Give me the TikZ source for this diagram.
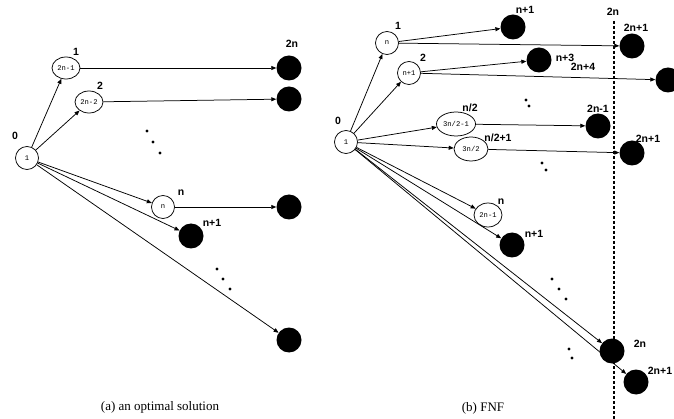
\documentclass[tikz,border=0pt]{standalone}
\usepackage{fontspec}
\setmainfont{Liberation Serif}
\setsansfont{Liberation Sans}
\setmonofont{Liberation Mono}
\usetikzlibrary{arrows.meta,shapes.geometric}
\tikzset{
  arr/.style={-{Triangle[length=5pt,width=4pt]},line width=0.75pt},
  wnode/.style={circle,draw,line width=0.75pt,minimum size=23pt,inner sep=0pt,font=\ttfamily\fontsize{7.2}{7.2}\selectfont},
  wellip/.style={ellipse,draw,line width=0.75pt,inner sep=0pt,font=\ttfamily\fontsize{7.2}{7.2}\selectfont},
  bnode/.style={circle,fill=black,minimum size=25pt,inner sep=0pt},
  lbl/.style={font=\sffamily\bfseries\fontsize{10.5}{10.5}\selectfont,inner sep=0pt},
  dotm/.style={circle,fill=black,minimum size=3.4pt,inner sep=0pt},
  captext/.style={font=\fontsize{13}{13}\selectfont,inner sep=0pt}
}
\begin{document}
\begin{tikzpicture}[x=1pt,y=-1pt]
\clip (0,0) rectangle (674,419);
\fill[white] (0,0) rectangle (674,419);
% ---------- left (a) ----------
\node[wnode] (L0) at (27,158) {1};
\node[lbl] (L0l) at (15,136) {0};
\node[wellip,minimum width=28pt,minimum height=22pt] (La) at (66,68) {2n-1};
\node[lbl] (Lal) at (76,52) {1};
\node[wellip,minimum width=28pt,minimum height=22pt] (Lb) at (89,102) {2n-2};
\node[lbl] (Lbl) at (100,86) {2};
\node[wnode] (Ln) at (163,207) {n};
\node[lbl] (Lnl) at (181,193) {n};
\node[bnode] (LBn1) at (191,236) {};
\node[lbl] (LBn1l) at (212,223) {n+1};
\node[bnode] (LB1) at (289,68) {};
\node[lbl] (LB1l) at (292,44) {2n};
\node[bnode] (LB2) at (289,99) {};
\node[bnode] (LB3) at (289,207) {};
\node[bnode] (LB4) at (289,340) {};
\node[dotm] (Ld1) at (147,131) {};
\node[dotm] (Ld2) at (153,142) {};
\node[dotm] (Ld3) at (160,153) {};
\node[dotm] (Ld4) at (217,269) {};
\node[dotm] (Ld5) at (223,279) {};
\node[dotm] (Ld6) at (230,289) {};
\draw[arr] (L0) -- (La);
\draw[arr] (L0) -- (Lb);
\draw[arr] (L0) -- (Ln);
\draw[arr] (L0) -- (LBn1);
\draw[arr] (L0) -- (LB4);
\draw[arr] (La) -- (LB1);
\draw[arr] (Lb) -- (LB2);
\draw[arr] (Ln) -- (LB3);
\node[captext] (capa) at (160,407) {(a) an optimal solution};
% ---------- right (b) ----------
\draw[line width=1.6pt,dash pattern=on 3pt off 2pt] (614,21) coordinate (dtop) -- (614,419) coordinate (dbot);
\node[lbl] (dl) at (613,12) {2n};
\node[wnode] (R0) at (346,142) {1};
\node[lbl] (R0l) at (338,121) {0};
\node[wnode] (Rn) at (387,43) {n};
\node[lbl] (Rnl) at (398,26) {1};
\node[wnode] (Rn1) at (409,73) {n+1};
\node[lbl] (Rn1l) at (423,58) {2};
\node[bnode] (RBa) at (513,27) {};
\node[lbl] (RBal) at (525,10) {n+1};
\node[bnode] (RBb) at (632,46) {};
\node[lbl] (RBbl) at (636,28) {2n+1};
\node[bnode] (RBc) at (539,60) {};
\node[lbl] (RBcl) at (565,58) {n+3};
\node[lbl] (RBdl) at (583,67) {2n+4};
\node[bnode] (RBd) at (668,80) {};
\node[dotm] (Rd1) at (526,100) {};
\node[dotm] (Rd2) at (529,106) {};
\node[wellip,minimum width=39pt,minimum height=24pt] (E1) at (456,124) {3n/2-1};
\node[lbl] (E1l) at (470,108) {n/2};
\node[bnode] (RBe) at (598,126) {};
\node[lbl] (RBel) at (598,109) {2n-1};
\node[wellip,minimum width=34pt,minimum height=24pt] (E2) at (471,149) {3n/2};
\node[lbl] (E2l) at (498,138) {n/2+1};
\node[bnode] (RBf) at (632,153) {};
\node[lbl] (RBfl) at (648,139) {2n+1};
\node[dotm] (Rd3) at (542,163) {};
\node[dotm] (Rd4) at (546,170) {};
\node[wellip,minimum width=28pt,minimum height=24pt] (E3) at (488,215) {2n-1};
\node[lbl] (E3l) at (501,202) {n};
\node[bnode] (RBg) at (512,245) {};
\node[lbl] (RBgl) at (534,234) {n+1};
\node[dotm] (Rd5) at (552,279) {};
\node[dotm] (Rd6) at (559,289) {};
\node[dotm] (Rd7) at (566,299) {};
\node[dotm] (Rd8) at (569,349) {};
\node[dotm] (Rd9) at (572,358) {};
\node[bnode] (RBh) at (612,351) {};
\node[lbl] (RBhl) at (640,344) {2n};
\node[bnode] (RBi) at (636,382) {};
\node[lbl] (RBil) at (660,371) {2n+1};
\draw[arr] (R0) -- (Rn);
\draw[arr] (R0) -- (Rn1);
\draw[arr] (R0) -- (E1);
\draw[arr] (R0) -- (E2);
\draw[arr] (R0) -- (E3);
\draw[arr] (R0) -- (RBg);
\draw[arr] (R0) -- (RBh);
\draw[arr] (R0) -- (RBi);
\draw[arr] (Rn) -- (RBa);
\draw[arr] (Rn) -- (RBb);
\draw[arr] (Rn1) -- (RBc);
\draw[arr] (Rn1) -- (RBd);
\draw[arr] (E1) -- (RBe);
\draw[arr] (E2) -- (RBf);
\node[captext] (capb) at (483,408) {(b) FNF};
\end{tikzpicture}
\end{document}
